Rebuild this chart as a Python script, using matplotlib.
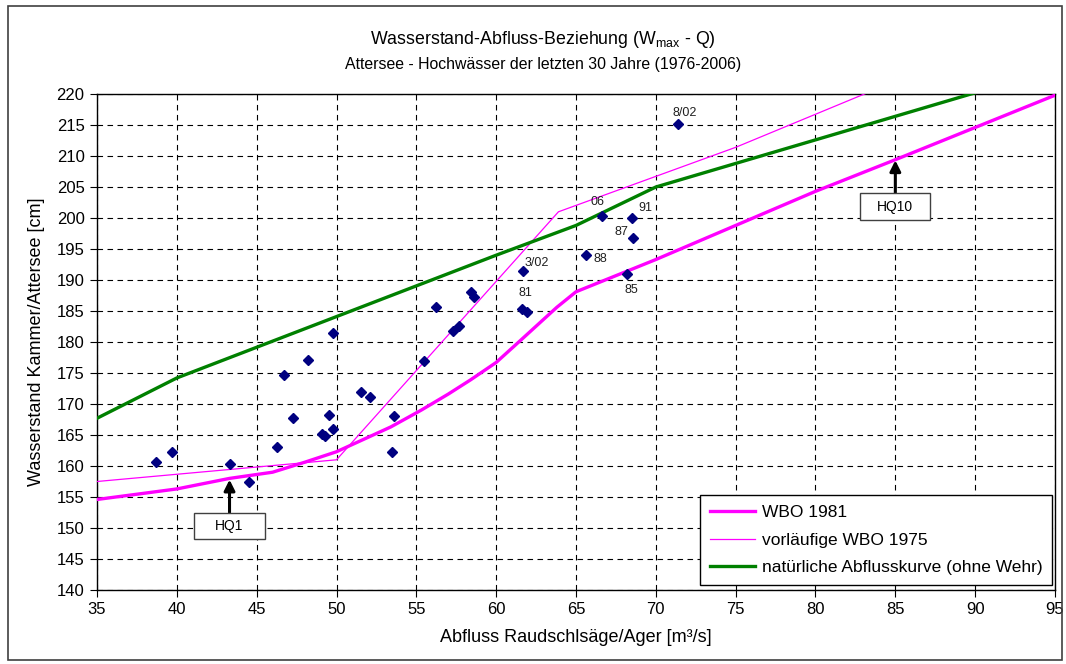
import matplotlib
matplotlib.use("Agg")
import matplotlib.pyplot as plt
from matplotlib.patches import Rectangle

plt.rcParams['font.family'] = ['Liberation Sans', 'DejaVu Sans']
plt.rcParams['mathtext.fontset'] = 'custom'
plt.rcParams['mathtext.rm'] = 'Liberation Sans'
plt.rcParams['mathtext.it'] = 'Liberation Sans'

# ---- data ----
flood_q = [38.7, 39.7, 43.3, 44.5, 46.25, 46.7, 47.3, 48.2, 49.1, 49.3, 49.5, 49.8, 49.8,
           51.55, 52.1, 53.5, 53.6, 55.5, 56.25, 57.3, 57.7, 58.45, 58.6, 61.6, 61.9,
           61.65, 65.6, 66.6, 68.2, 68.5, 68.6, 71.4]
flood_w = [160.6, 162.3, 160.4, 157.4, 163.1, 174.6, 167.7, 177.1, 165.1, 164.8, 168.3, 166.0, 181.5,
           172.0, 171.1, 162.2, 168.0, 177.0, 185.7, 181.8, 182.6, 188.0, 187.2, 185.4, 184.8,
           191.4, 194.0, 200.3, 191.0, 200.0, 196.8, 215.2]

label_texts = ["8/02", "06", "91", "87", "88", "85", "3/02", "81"]
label_q = [71.4, 66.6, 68.5, 68.6, 65.6, 68.2, 61.65, 61.6]
label_w = [215.2, 200.3, 200.0, 196.8, 194.0, 191.0, 191.4, 185.4]

wbo81_q = [35, 40, 43.3, 46, 48, 50, 53.4, 55.3, 57, 58.4, 60, 61.5, 63.8, 65, 70, 75, 80, 85, 90, 95]
wbo81_w = [154.6, 156.3, 158.0, 159.0, 160.6, 162.3, 166.3, 169.0, 171.6, 173.9, 176.7, 180.2,
           185.6, 188.1, 193.3, 198.8, 204.3, 209.4, 214.6, 219.8]

wbo75_q = [35, 50, 63.9, 75, 84]
wbo75_w = [157.5, 161.0, 201.0, 211.4, 221.0]

nat_q = [35, 40, 50, 60, 65, 70, 80, 90, 92]
nat_w = [167.7, 174.2, 184.1, 194.0, 198.8, 205.0, 212.6, 220.2, 221.6]

hq_labels = ["HQ1", "HQ10"]
hq_q = [43.3, 85.0]
hq_w = [157.8, 209.3]

x_ticks = list(range(35, 96, 5))
y_ticks = list(range(140, 221, 5))

# ---- figure ----
W, H = 1066, 664
fig = plt.figure(figsize=(W / 100, H / 100), dpi=100)
fig.patches.append(Rectangle((8 / W, 4 / H), 1054 / W, 654 / H, transform=fig.transFigure,
                             fill=False, edgecolor='#404040', linewidth=1.2))

ax = fig.add_axes([97 / W, (H - 590) / H, 958 / W, 496 / H])

ax.plot(wbo81_q, wbo81_w, color='#FF00FF', lw=2.4, label='WBO 1981', zorder=3)
ax.plot(wbo75_q, wbo75_w, color='#FF00FF', lw=0.9, label='vorläufige WBO 1975', zorder=3)
ax.plot(nat_q, nat_w, color='#008000', lw=2.4, label='natürliche Abflusskurve (ohne Wehr)', zorder=3)
ax.plot(flood_q, flood_w, linestyle='none', marker='D', markersize=5.5, color='#000080', zorder=4)

label_offsets = {"8/02": (5, 8), "06": (-3, 10), "91": (10, 7), "87": (-9, 4),
                 "88": (11, -3), "85": (3, -12), "3/02": (10, 6), "81": (3, 11)}
for t, q, w in zip(label_texts, label_q, label_w):
    ax.annotate(t, (q, w), xytext=label_offsets[t], textcoords='offset points',
                ha='center', va='center', fontsize=9, color='#202020', zorder=5)

# HQ boxes: fixed size in data units, below the arrow
box_w, box_h, box_gap = 4.4, 4.3, 5.3
for t, q, w in zip(hq_labels, hq_q, hq_w):
    top = w - box_gap
    ax.add_patch(Rectangle((q - box_w / 2, top - box_h), box_w, box_h, facecolor='white',
                           edgecolor='#404040', lw=1.0, zorder=7))
    ax.text(q, top - box_h / 2, t, ha='center', va='center', fontsize=10, zorder=8)
    ax.annotate("", xy=(q, w), xytext=(q, top),
                arrowprops=dict(arrowstyle='-|>', color='black', lw=2.2, mutation_scale=16,
                                shrinkA=0, shrinkB=0), zorder=6)

ax.set_xlim(35, 95)
ax.set_ylim(140, 220)
ax.set_xticks(x_ticks)
ax.set_yticks(y_ticks)
ax.tick_params(direction='out', length=5, labelsize=12, width=0.8, pad=4)
ax.grid(True, color='black', linestyle=(0, (5, 4)), linewidth=0.8)
ax.set_axisbelow(True)
for s in ax.spines.values():
    s.set_linewidth(1.0)

ax.set_xlabel('Abfluss Raudschlsäge/Ager [m³/s]', fontsize=13, labelpad=8)
ax.set_ylabel('Wasserstand Kammer/Attersee [cm]', fontsize=13, labelpad=8)

fig.text(543 / W, 1 - 40 / H, r'Wasserstand-Abfluss-Beziehung (W$_{\mathrm{max}}$ - Q)',
         ha='center', va='center', fontsize=12.8)
fig.text(543 / W, 1 - 64 / H, 'Attersee - Hochwässer der letzten 30 Jahre (1976-2006)',
         ha='center', va='center', fontsize=11.4)

leg = ax.legend(loc='lower right', bbox_to_anchor=(0.997, 0.01), fontsize=12.5, frameon=True,
                fancybox=False, edgecolor='black', framealpha=1, handlelength=2.6,
                borderpad=0.55, labelspacing=0.72, handletextpad=0.4, borderaxespad=0)
leg.get_frame().set_linewidth(1.0)

fig.savefig('out.png', dpi=100)
